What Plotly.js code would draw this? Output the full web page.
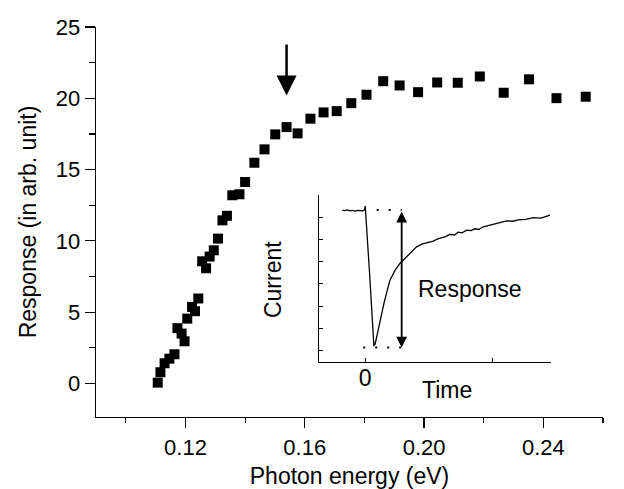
<!DOCTYPE html>
<html>
<head>
<meta charset="utf-8">
<script src="https://cdn.plot.ly/plotly-3.0.1.min.js"></script>
<style>html,body{margin:0;padding:0;background:#fff;}#chart{width:624px;height:489px;}</style>
</head>
<body>
<div id="chart"></div>
<script>
// Main series: photon energy (eV) vs response (arb. unit)
const energy = [0.1107,0.1116,0.1130,0.1146,0.1163,0.1173,0.1187,0.1197,0.1206,0.1222,0.1232,0.1243,
  0.1256,0.1269,0.1281,0.1295,0.1309,0.1324,0.1339,0.1357,0.1381,0.1400,0.1431,0.1465,0.1501,0.1539,
  0.1576,0.1619,0.1663,0.1707,0.1756,0.1807,0.1863,0.1918,0.1980,0.2044,0.2113,0.2187,0.2267,0.2352,
  0.2444,0.2542];
const response = [0.06,0.79,1.42,1.74,2.05,3.88,3.50,2.96,4.55,5.37,5.07,5.96,
  8.57,8.08,8.90,9.34,10.16,11.44,11.76,13.20,13.27,14.13,15.48,16.42,17.47,17.98,
  17.54,18.57,19.01,19.10,19.66,20.25,21.20,20.90,20.43,21.11,21.09,21.53,20.39,21.33,
  20.01,20.11];
const xTickVals = [0.12,0.16,0.20,0.24];
const yTickVals = [0,5,10,15,20,25];

// Arrow marking the feature
const arrowX = 0.1539, arrowTipY = 20.2, arrowTailY = 23.87;

// Inset: current transient vs time
const insetTime = [-0.18,-0.16,-0.14,-0.12,-0.10,-0.08,-0.06,-0.04,-0.02,-0.005,0.0,0.035,0.060,0.068,0.078,
  0.095,0.115,0.150,0.194,0.235,0.272,0.300,0.325,0.360,0.403,0.45,0.49,0.534,0.57,0.60,0.63,0.665,0.70,
  0.73,0.76,0.796,0.83,0.86,0.89,0.926,0.96,1.0,1.05,1.11,1.16,1.2,1.26,1.319,1.38,1.42,1.45];
const insetCurrent = [6.32,6.30,6.33,6.29,6.31,6.28,6.31,6.30,6.29,6.33,6.50,3.4,1.0,0.21,0.30,
  0.75,1.37,2.20,3.17,3.62,3.92,4.08,4.22,4.42,4.67,4.80,4.86,4.93,5.03,5.08,5.13,5.23,5.20,
  5.33,5.30,5.42,5.40,5.48,5.45,5.57,5.62,5.66,5.74,5.84,5.82,5.88,5.90,5.98,5.96,6.04,6.10];
const insetTopLevel = 6.32, insetBottomLevel = 0.14, insetMarkTime = 0.286;
const insetTopDots = [0.09, insetMarkTime];
const insetBottomDots = [-0.016, insetMarkTime];

const FONT = 'Liberation Sans, Arial, sans-serif';

const traces = [
  {x: energy, y: response, type: 'scatter', mode: 'markers', xaxis: 'x', yaxis: 'y',
   marker: {symbol: 'square', size: 10, color: '#000'}, hoverinfo: 'skip'},
  {x: insetTime, y: insetCurrent, type: 'scatter', mode: 'lines', xaxis: 'x2', yaxis: 'y2',
   line: {color: '#000', width: 1.3}, hoverinfo: 'skip'},
  {x: insetTopDots, y: [insetTopLevel, insetTopLevel], type: 'scatter', mode: 'lines', xaxis: 'x2', yaxis: 'y2',
   line: {color: '#000', width: 2, dash: '2px,10px'}, hoverinfo: 'skip'},
  {x: insetBottomDots, y: [insetBottomLevel, insetBottomLevel], type: 'scatter', mode: 'lines', xaxis: 'x2', yaxis: 'y2',
   line: {color: '#000', width: 2, dash: '2px,10px'}, hoverinfo: 'skip'}
];

const layout = {
  width: 624, height: 489,
  margin: {l: 96, r: 21, t: 27, b: 72},
  paper_bgcolor: '#fff', plot_bgcolor: 'rgba(0,0,0,0)',
  showlegend: false,
  font: {family: FONT, color: '#000', size: 22},
  xaxis: {
    range: [0.09, 0.26], domain: [0, 1], anchor: 'y',
    tickvals: xTickVals, ticktext: xTickVals.map(v => v.toFixed(2)),
    ticks: 'outside', ticklen: 10, tickwidth: 1.2, tickcolor: '#000',
    minor: {dtick: 0.02, tick0: 0.10, ticks: 'outside', ticklen: 5, tickwidth: 1.2, tickcolor: '#000'},
    showline: true, linecolor: '#000', linewidth: 1.3, showgrid: false, zeroline: false,
    tickfont: {size: 22, family: FONT},
    title: {text: 'Photon energy (eV)', font: {size: 23, family: FONT}, standoff: 12}
  },
  yaxis: {
    range: [-2.35, 25], domain: [0, 1], anchor: 'x',
    tickvals: yTickVals,
    ticks: 'outside', ticklen: 10, tickwidth: 1.2, tickcolor: '#000',
    minor: {dtick: 2.5, tick0: 0, ticks: 'outside', ticklen: 6, tickwidth: 1.2, tickcolor: '#000'},
    showline: true, linecolor: '#000', linewidth: 1.3, showgrid: false, zeroline: false,
    tickfont: {size: 22, family: FONT},
    title: {text: 'Response (in arb. unit)', font: {size: 23, family: FONT}, standoff: 12}
  },
  xaxis2: {
    range: [-0.363, 1.458], domain: [0.4398, 0.8974], anchor: 'y2',
    tickvals: [0, 1], ticktext: ['0', ''],
    ticks: 'inside', ticklen: 4, tickwidth: 1, tickcolor: '#000', ticklabelstandoff: -5,
    showline: true, linecolor: '#000', linewidth: 1.3, showgrid: false, zeroline: false,
    tickfont: {size: 23, family: FONT}
  },
  yaxis2: {
    range: [-0.5, 7], domain: [0.1418, 0.5692], anchor: 'x2',
    tickvals: [0,1,2,3,4,5,6,7], showticklabels: false,
    ticks: 'inside', ticklen: 4, tickwidth: 1, tickcolor: '#000',
    showline: true, linecolor: '#000', linewidth: 1.3, showgrid: false, zeroline: false
  },
  annotations: [
    {x: arrowX, y: arrowTipY, ax: arrowX, ay: arrowTailY, xref: 'x', yref: 'y', axref: 'x', ayref: 'y',
     text: '', showarrow: true, arrowhead: 2, arrowsize: 1.6, arrowwidth: 2.5, arrowcolor: '#000'},
    {x: insetMarkTime, y: insetBottomLevel, ax: insetMarkTime, ay: insetTopLevel,
     xref: 'x2', yref: 'y2', axref: 'x2', ayref: 'y2',
     text: '', showarrow: true, arrowside: 'end+start', arrowhead: 2, startarrowhead: 2,
     arrowsize: 1.2, startarrowsize: 1.2, arrowwidth: 1.8, arrowcolor: '#000'},
    {x: 0.651, y: 0.436, xref: 'x2 domain', yref: 'y2 domain', text: 'Response', showarrow: false,
     font: {size: 23, family: FONT}, xanchor: 'center', yanchor: 'middle'},
    {x: 0.55, y: -0.17, xref: 'x2 domain', yref: 'y2 domain', text: 'Time', showarrow: false,
     font: {size: 23, family: FONT}, xanchor: 'center', yanchor: 'middle'},
    {x: -0.198, y: 0.49, xref: 'x2 domain', yref: 'y2 domain', text: 'Current', showarrow: false,
     textangle: -90, font: {size: 23, family: FONT}, xanchor: 'center', yanchor: 'middle'}
  ]
};

Plotly.newPlot('chart', traces, layout, {staticPlot: true, displayModeBar: false});
</script>
</body>
</html>
